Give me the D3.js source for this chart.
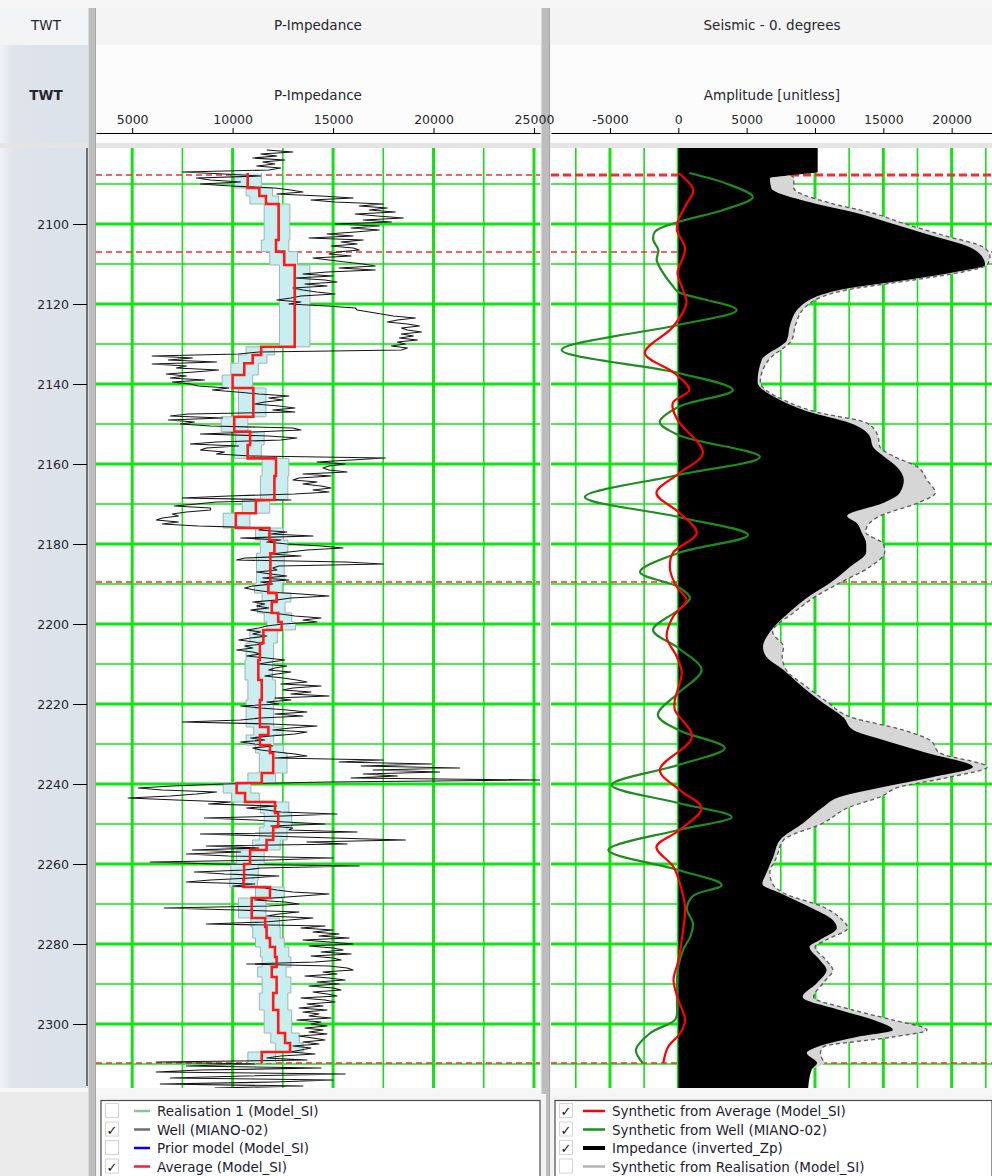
<!DOCTYPE html>
<html>
<head>
<meta charset="utf-8">
<script src="https://cdn.jsdelivr.net/npm/d3@7"></script>
<style>
  body { margin: 0; background: #ffffff; }
  svg { display: block; font-family: "DejaVu Sans", Verdana, sans-serif; }
</style>
</head>
<body>
<svg id="chart" width="992" height="1176"></svg>
<script>
// ---------------- data ----------------
// time axis (TWT, ms)
const twtDomain = [2081, 2316];
const twtTicks = [2100, 2120, 2140, 2160, 2180, 2200, 2220, 2240, 2260, 2280, 2300];
const twtGrid = [2090, 2100, 2110, 2120, 2130, 2140, 2150, 2160, 2170, 2180, 2190, 2200,
  2210, 2220, 2230, 2240, 2250, 2260, 2270, 2280, 2290, 2300, 2310];

// P-Impedance track axis
const zpDomain = [3200, 25300];
const zpTicks = [5000, 10000, 15000, 20000, 25000];
const zpGrid = [5000, 7500, 10000, 12500, 15000, 17500, 20000, 22500, 25000];

// seismic track axis
const ampDomain = [-9314, 22952];
const ampTicks = [-5000, 0, 5000, 10000, 15000, 20000];
const ampGrid = [-7500, -5000, -2500, 0, 2500, 5000, 7500, 10000, 12500, 15000, 17500, 20000, 22500];

// interpreted horizons (TWT)
const horizonTwt = [2087.75, 2107, 2189.5, 2309.75];

// well log MIANO-02, P-impedance sampled every 0.5 ms from 2081.5 ms
const wellStart = 2081.5;
const wellStep = 0.5;
const wellZp = [
  11700, 13000, 11400, 12200, 11000, 12600, 11500, 12100, 11200, 12400,
  11800, 7500, 9600, 11400, 8200, 8900, 10400, 8400, 9900, 12100,
  12900, 13500, 12200, 14400, 16000, 13900, 15100, 17500, 16300, 17700,
  16800, 18100, 16100, 17200, 18500, 16500, 17900, 15100, 17300, 15900,
  17300, 16100, 14700, 16000, 13800, 16500, 15400, 16200, 14900, 16000,
  16300, 15200, 14800, 15900, 14000, 14800, 15600, 16500, 17100, 15300,
  17100, 14700, 13500, 15000, 13100, 14600, 15200, 13600, 14700, 13000,
  13500, 14200, 15100, 13400, 12900, 12200, 13400, 12800, 14700, 16100,
  16200, 16800, 17400, 18000, 19100, 18200, 17700, 18700, 19300, 18400,
  18700, 19400, 18400, 19000, 18300, 19200, 18200, 18600, 17900, 18700,
  18400, 11300, 10300, 6000, 8000, 6800, 9200, 6000, 7700, 7200,
  9300, 8100, 6700, 7700, 6900, 8600, 7000, 7900, 8300, 9800,
  9000, 10200, 11300, 12800, 11800, 12500, 11600, 11100, 12300, 13100,
  12000, 13100, 7800, 6900, 9500, 6800, 8100, 7400, 8900, 13000,
  13400, 11100, 8400, 11800, 13200, 12400, 9200, 7900, 10300, 8700,
  8400, 9600, 9200, 10900, 17600, 15900, 14200, 15600, 14800, 14500,
  14800, 15700, 13500, 14900, 13300, 13000, 14200, 13500, 14400, 14900,
  14000, 14800, 13100, 9800, 7500, 12900, 9200, 8200, 7100, 8900,
  8900, 7700, 7000, 7300, 6500, 6200, 7300, 6500, 8300, 11800,
  11300, 12700, 11900, 14000, 10400, 12400, 11700, 12700, 14400, 15500,
  13700, 12800, 11900, 13400, 10600, 10200, 15600, 17500, 12300, 12000,
  12200, 11200, 11900, 12700, 11500, 12800, 11400, 12000, 11000, 10600,
  11100, 11800, 13400, 14800, 12900, 12200, 11000, 11600, 11200, 11800,
  10900, 11500, 12400, 13100, 14400, 13500, 14200, 12500, 11700, 11300,
  10700, 11400, 11000, 11700, 10900, 10300, 11100, 11500, 10600, 11000,
  10200, 11000, 11400, 10700, 11700, 12600, 11900, 11300, 12700, 12100,
  11800, 12900, 12200, 11600, 12500, 13200, 13700, 12400, 14400, 13000,
  12500, 13900, 12900, 14800, 12100, 12900, 11700, 12300, 10400, 11400,
  12700, 13700, 12100, 13500, 11400, 10400, 7500, 11900, 14200, 12900,
  12000, 13700, 13100, 11900, 10900, 11600, 10400, 11100, 12000, 11000,
  11400, 12200, 13100, 13700, 12100, 17500, 15300, 19900, 16400, 21300,
  17000, 20300, 16500, 18200, 15900, 25300, 14700, 9600, 7000, 5300,
  6500, 9200, 8200, 6900, 4800, 7200, 9900, 8800, 12200, 10700,
  11700, 12400, 15200, 12500, 8600, 11100, 12600, 14600, 11900, 13000,
  12800, 16200, 8400, 11800, 15000, 18600, 13700, 15700, 8700, 11300,
  8000, 10400, 7700, 9800, 15000, 12000, 5900, 9200, 16300, 11400,
  10600, 8100, 9600, 12300, 10900, 8900, 7700, 11100, 10000, 11600,
  12200, 13000, 14800, 13400, 12000, 11100, 12600, 13300, 11800, 6600,
  10200, 13300, 12300, 11700, 14000, 12800, 11600, 8700, 14600, 13400,
  15000, 14000, 15300, 14300, 15800, 13500, 14800, 16000, 13800, 15000,
  15500, 14400, 15900, 13900, 15000, 15400, 14100, 10700, 14800, 15700,
  16000, 14500, 15200, 13600, 14800, 15600, 14200, 15300, 13800, 15000,
  15400, 14000, 14700, 15200, 13400, 14600, 15100, 13700, 14500, 13300,
  14700, 13500, 14300, 13800, 14900, 13200, 14400, 13900, 14700, 13600,
  14500, 13800, 14700, 13300, 14000, 14600, 13500, 14300, 13000, 13900,
  13400, 12900, 14100, 12400, 11700, 13700, 6200, 11100, 7700, 14400,
  8400, 6200, 15600, 10600, 6900, 15000, 12100, 6400, 13500, 9100
];

// Average (Model_SI): blocky layers, each starting at avgTop and holding avgZp
const avgTop = [2087.25, 2091, 2093, 2095, 2104, 2106.9, 2110.25, 2130.7, 2132.75, 2134.8,
  2137.75, 2141, 2148.2, 2151.9, 2155.25, 2158.6, 2163, 2169, 2172.3, 2176,
  2179, 2182.3, 2189.75, 2192.25, 2194.5, 2197.25, 2199.5, 2201.5, 2204.75, 2209,
  2214, 2219, 2225.75, 2227.75, 2230.25, 2232.25, 2237.25, 2239.75, 2242.25, 2244.5,
  2247.25, 2250.75, 2254, 2256.5, 2260, 2264, 2265.75, 2268.5, 2273.5, 2275.75,
  2278.5, 2280.75, 2283.25, 2285.75, 2288.25, 2292.25, 2296.5, 2302.25, 2304.75, 2307];
const avgBase = 2309.75;
const avgZp = [10750, 11330, 11660, 12290, 12160, 12570, 13090, 11420, 11000, 10580,
  10000, 11030, 10080, 10870, 10750, 12160, 12080, 11160, 10160, 11830,
  12080, 11880, 11780, 12190, 11950, 12270, 12440, 11530, 11360, 11280,
  11450, 11360, 11780, 11360, 11860, 12020, 11450, 10200, 10620, 12110,
  12270, 12020, 11690, 10870, 10570, 10540, 11860, 10950, 11620, 11690,
  11860, 12110, 12190, 11950, 12190, 12020, 12270, 12610, 12860, 11450];
// uncertainty band around the average (low / high per layer)
const bandLo = [10100, 10670, 10860, 11570, 11430, 11850, 12330, 10670, 10290, 9910,
  9480, 10290, 9430, 10150, 10100, 11470, 11380, 10480, 9530, 11140,
  11380, 11190, 11090, 11470, 11240, 11570, 11710, 10860, 10670, 10620,
  10760, 10670, 11050, 10670, 11140, 11330, 10760, 9530, 9960, 11380,
  11570, 11330, 11000, 10190, 9910, 9860, 11140, 10290, 10910, 11000,
  11140, 11380, 11470, 11240, 11470, 11330, 11570, 11900, 12140, 10760];
const bandHi = [11430, 11990, 12280, 12850, 12800, 13230, 13850, 12090, 11710, 11280,
  11000, 11660, 10760, 11570, 11430, 12800, 12750, 11850, 10860, 12520,
  12750, 12570, 12470, 12900, 12610, 12940, 13130, 12230, 12040, 11990,
  12140, 12040, 12470, 12040, 12520, 12710, 12140, 10910, 11330, 12800,
  12940, 12710, 12370, 11570, 11280, 11240, 12570, 11660, 12330, 12370,
  12570, 12800, 12900, 12660, 12900, 12750, 12940, 13320, 13510, 12140];

// inverted impedance (black) and its upper envelope (grey, dashed outline)
const zpTwt = [2081, 2087, 2087.8, 2088.5, 2091, 2094.75, 2097.25, 2099.75, 2102.75, 2105.75,
  2108, 2110.25, 2112, 2114, 2116.5, 2120.75, 2125, 2129, 2134, 2139.5,
  2144, 2147, 2149.75, 2153, 2155.75, 2158, 2160.75, 2164, 2167.25, 2169.75,
  2173, 2174.75, 2177, 2180, 2182, 2185.75, 2189.75, 2193, 2197, 2202,
  2205.75, 2208, 2211.5, 2215.75, 2219.75, 2223.25, 2226.5, 2229, 2232.25, 2235.75,
  2238.25, 2240.75, 2243.25, 2245.75, 2249.75, 2254, 2258.25, 2262.25, 2265, 2267.25,
  2270.75, 2274, 2276, 2279, 2280.75, 2284, 2286.5, 2289.75, 2293.25, 2296.5,
  2299, 2301.5, 2303.25, 2305.75, 2307.25, 2309.75, 2311.5, 2316];
const zpInverted = [10200, 10200, 8200, 6700, 6800, 9850, 13050, 15500, 18400, 21300,
  22200, 22450, 20300, 16700, 11800, 8900, 8200, 7950, 6100, 5800,
  7450, 9600, 12550, 14000, 14250, 15000, 16000, 16500, 16200, 15000,
  12350, 13050, 13400, 13750, 13750, 12550, 11100, 9600, 8150, 6700,
  6200, 6400, 7700, 9100, 10600, 12050, 12800, 15000, 18200, 21550,
  18650, 15000, 11800, 10600, 9150, 7450, 6950, 6450, 6150, 7450,
  9600, 11300, 11600, 10350, 9600, 10350, 10850, 10150, 9100, 11800,
  14300, 15700, 13050, 10150, 9400, 10150, 9750, 9500];
const zpUpper = [null, null, 8200, 8450, 8450, 11100, 14200, 16400, 19300, 22300,
  22800, 22600, 20800, 17200, 12300, 9300, 8600, 8300, 6600, 6000,
  7700, 10100, 13800, 14600, 14750, 15700, 17500, 18200, 18800, 17500,
  14750, 14000, 13700, 15000, 15100, 14000, 11800, 10100, 8500, 6900,
  7700, 7600, 7900, 9400, 11000, 12600, 16450, 18400, 19150, 22600,
  19900, 16200, 14750, 12550, 10600, 7700, 7200, 6700, 6900, 7700,
  10600, 12000, 12400, 10800, 10000, 10800, 11300, 10600, 9900, 12750,
  15700, 18200, 15700, 10600, 10400, 10700, 9750, 9500];

// synthetic from well (green)
const synWellTwt = [2087.25, 2090, 2093.25, 2096.5, 2099.5, 2101.9, 2104, 2106.5, 2109, 2112.3,
  2115.7, 2117, 2121.5, 2125.25, 2131.5, 2137.25, 2141.5, 2145.75, 2149.5, 2152.75,
  2158.25, 2162.75, 2168.25, 2173.25, 2177.75, 2182.25, 2187, 2190.75, 2193.5, 2196.5,
  2201.5, 2206, 2211.5, 2217.25, 2222.75, 2226.5, 2231, 2235.25, 2240.25, 2244.75,
  2248.25, 2251.5, 2256.5, 2261.5, 2265.25, 2268, 2271.25, 2274.75, 2278, 2281.25,
  2285.5, 2289.75, 2294.75, 2298.75, 2302.25, 2306.5, 2309.75];
const synWellAmp = [800, 3600, 5450, 3300, 0, -1700, -1830, -1460, -1580, -1100,
  -360, 0, 4270, 0, -8530, 0, 4000, 0, -1350, 0,
  5970, 0, -6830, 0, 5100, 0, -2800, 0, 850, 0,
  -1850, 0, 1700, 0, -1500, 0, 3400, 0, -4880, 0,
  3900, 0, -5120, 0, 3170, 1070, 630, 1070, 900, 380,
  0, -100, -100, -200, -2050, -3100, -2600];

// synthetic from average (red)
const synAvgTwt = [2087.25, 2091.5, 2095, 2099, 2101.5, 2106.25, 2112.25, 2116.5, 2119.75, 2125.75,
  2132.25, 2137.25, 2141.5, 2144.75, 2148.75, 2157.25, 2162.25, 2167.25, 2172.25, 2177.25,
  2182.25, 2186.5, 2190.75, 2194, 2198.25, 2203.25, 2208.25, 2212.25, 2219, 2221.5,
  2228.25, 2236.5, 2241.5, 2246, 2251.5, 2255.75, 2260.75, 2266.5, 2271, 2277.75,
  2284.25, 2289, 2294, 2299, 2302.25, 2305.75, 2309.75];
const synAvgAmp = [0, 1100, 600, 0, -100, 500, -50, 350, 600, -400,
  -2440, -300, 800, -400, -100, 1800, 100, -1600, 100, 1350,
  -400, -600, -100, 600, -400, -850, -100, 250, -250, -250,
  1000, -1350, 100, 1700, 100, -1600, -350, 250, 500, 300,
  0, -350, 0, 500, 150, -750, -1100];

// legend entries
const legendLeft = [
  { label: "Realisation 1 (Model_SI)", color: "#8fbf9f", checked: false, width: 2.5 },
  { label: "Well (MIANO-02)", color: "#6e6e6e", checked: true, width: 2.5 },
  { label: "Prior model (Model_SI)", color: "#0000ff", checked: false, width: 2.5 },
  { label: "Average (Model_SI)", color: "#ff1744", checked: true, width: 2.5 }
];
const legendRight = [
  { label: "Synthetic from Average (Model_SI)", color: "#ff0000", checked: true, width: 2.5 },
  { label: "Synthetic from Well (MIANO-02)", color: "#1e8c1e", checked: true, width: 2.5 },
  { label: "Impedance (inverted_Zp)", color: "#000000", checked: true, width: 4 },
  { label: "Synthetic from Realisation (Model_SI)", color: "#b4b4b4", checked: false, width: 2.5 }
];

// ---------------- layout ----------------
const svg = d3.select("#chart");
const plotTop = 148, plotBottom = 1088;
const left = { x0: 96, x1: 540 };
const right = { x0: 551, x1: 992 };

const y = d3.scaleLinear().domain(twtDomain).range([plotTop, plotBottom]);
const xL = d3.scaleLinear().domain(zpDomain).range([left.x0, left.x1]);
const xR = d3.scaleLinear().domain(ampDomain).range([right.x0, right.x1]);

const GRID = "#16e016";
const TXT = "#26262e";
const plainNumber = d => String(d);

// ---------------- frame / backgrounds ----------------
svg.append("rect").attr("x", 0).attr("y", 0).attr("width", 992).attr("height", 1176).attr("fill", "#f6f6f6");

const defs = svg.append("defs");
const colGrad = defs.append("linearGradient").attr("id", "colGrad").attr("x1", 0).attr("x2", 1).attr("y1", 0).attr("y2", 0);
colGrad.append("stop").attr("offset", "0%").attr("stop-color", "#eef1f5");
colGrad.append("stop").attr("offset", "15%").attr("stop-color", "#dfe4eb");
colGrad.append("stop").attr("offset", "100%").attr("stop-color", "#dce2ea");

// TWT column
svg.append("rect").attr("x", 0).attr("y", 8).attr("width", 88).attr("height", 37).attr("fill", "#f3f4f6");
svg.append("rect").attr("x", 0).attr("y", 45).attr("width", 88).attr("height", 98).attr("fill", "url(#colGrad)");
svg.append("rect").attr("x", 0).attr("y", plotTop).attr("width", 88).attr("height", plotBottom - plotTop).attr("fill", "url(#colGrad)");
svg.append("rect").attr("x", 0).attr("y", 1092).attr("width", 96).attr("height", 84).attr("fill", "#ebebeb");

// track headers
[left, right].forEach(tr => {
  svg.append("rect").attr("x", tr.x0).attr("y", 8).attr("width", tr.x1 - tr.x0).attr("height", 37).attr("fill", "#f4f4f4");
  svg.append("rect").attr("x", tr.x0).attr("y", 45).attr("width", tr.x1 - tr.x0).attr("height", 98).attr("fill", "#fcfcfc");
});

// band between header and plots
svg.append("rect").attr("x", 0).attr("y", 143).attr("width", 992).attr("height", 5).attr("fill", "#e4e4e4");

// clip paths
defs.append("clipPath").attr("id", "clipL").append("rect")
  .attr("x", left.x0).attr("y", plotTop).attr("width", left.x1 - left.x0).attr("height", plotBottom - plotTop);
defs.append("clipPath").attr("id", "clipR").append("rect")
  .attr("x", right.x0).attr("y", plotTop).attr("width", right.x1 - right.x0).attr("height", plotBottom - plotTop);

// ---------------- grids ----------------
function drawGrid(g, tr, xs, vGrid) {
  g.append("rect").attr("x", tr.x0).attr("y", plotTop).attr("width", tr.x1 - tr.x0)
    .attr("height", plotBottom - plotTop).attr("fill", "#ffffff");
  g.selectAll("line.h").data(twtGrid).enter().append("line")
    .attr("x1", tr.x0).attr("x2", tr.x1)
    .attr("y1", d => y(d)).attr("y2", d => y(d))
    .attr("stroke", GRID).attr("stroke-width", d => d % 20 === 0 ? 3 : 1.6);
  g.selectAll("line.v").data(vGrid).enter().append("line")
    .attr("x1", d => xs(d)).attr("x2", d => xs(d))
    .attr("y1", plotTop).attr("y2", plotBottom)
    .attr("stroke", GRID).attr("stroke-width", d => d % 5000 === 0 ? 3 : 1.6);
}

function drawHorizons(g, tr, firstWidth) {
  g.selectAll("line.hz").data(horizonTwt).enter().append("line")
    .attr("x1", tr.x0).attr("x2", tr.x1)
    .attr("y1", d => y(d)).attr("y2", d => y(d))
    .attr("stroke", "#ff2a2a")
    .attr("stroke-width", (d, i) => i === 0 ? firstWidth : 1.4)
    .attr("stroke-dasharray", (d, i) => i === 0 && firstWidth > 2 ? "8,4" : "6,4");
}

// ---------------- P-Impedance track ----------------
const gL = svg.append("g").attr("clip-path", "url(#clipL)");
drawGrid(gL, left, xL, zpGrid);
drawHorizons(gL, left, 1.4);

// step vertices for the layered average and its band
const avgSteps = [];
avgTop.forEach((t0, i) => {
  const t1 = i < avgTop.length - 1 ? avgTop[i + 1] : avgBase;
  avgSteps.push({ t: t0, v: avgZp[i], lo: bandLo[i], hi: bandHi[i] });
  avgSteps.push({ t: t1, v: avgZp[i], lo: bandLo[i], hi: bandHi[i] });
});

gL.append("path").datum(avgSteps)
  .attr("d", d3.area().y(d => y(d.t)).x0(d => xL(d.lo)).x1(d => xL(d.hi)))
  .attr("fill", "#c9eef0");
gL.append("path").datum(avgSteps)
  .attr("d", d3.line().y(d => y(d.t)).x(d => xL(d.lo)))
  .attr("fill", "none").attr("stroke", "#9fb3b5").attr("stroke-width", 1);
gL.append("path").datum(avgSteps)
  .attr("d", d3.line().y(d => y(d.t)).x(d => xL(d.hi)))
  .attr("fill", "none").attr("stroke", "#9fb3b5").attr("stroke-width", 1);

// well log
const wellPts = wellZp.map((v, i) => ({ t: wellStart + i * wellStep, v }));
gL.append("path").datum(wellPts)
  .attr("d", d3.line().y(d => y(d.t)).x(d => xL(d.v)))
  .attr("fill", "none").attr("stroke", "#141414").attr("stroke-width", 1.1)
  .attr("stroke-linejoin", "round");

// average
gL.append("path").datum(avgSteps)
  .attr("d", d3.line().y(d => y(d.t)).x(d => xL(d.v)))
  .attr("fill", "none").attr("stroke", "#ff1a1a").attr("stroke-width", 2.6);

// ---------------- Seismic track ----------------
const gR = svg.append("g").attr("clip-path", "url(#clipR)");
drawGrid(gR, right, xR, ampGrid);
drawHorizons(gR, right, 3);

const zpPts = zpTwt.map((t, i) => ({ t, v: zpInverted[i], u: zpUpper[i] }));

gR.append("path").datum(zpPts)
  .attr("d", d3.area().defined(d => d.u !== null).curve(d3.curveMonotoneY)
    .y(d => y(d.t)).x0(xR(0)).x1(d => xR(d.u)))
  .attr("fill", "#d6d6d6");
gR.append("path").datum(zpPts)
  .attr("d", d3.area().curve(d3.curveMonotoneY)
    .y(d => y(d.t)).x0(xR(0)).x1(d => xR(d.v)))
  .attr("fill", "#000000");
gR.append("path").datum(zpPts.filter(d => d.u !== null && d.t < 2311))
  .attr("d", d3.line().curve(d3.curveMonotoneY).y(d => y(d.t)).x(d => xR(d.u)))
  .attr("fill", "none").attr("stroke", "#5a5a5a").attr("stroke-width", 1.3)
  .attr("stroke-dasharray", "4,3");

const synWell = synWellTwt.map((t, i) => ({ t, v: synWellAmp[i] }));
const synAvg = synAvgTwt.map((t, i) => ({ t, v: synAvgAmp[i] }));
gR.append("path").datum(synWell)
  .attr("d", d3.line().curve(d3.curveCatmullRom.alpha(0.5)).y(d => y(d.t)).x(d => xR(d.v)))
  .attr("fill", "none").attr("stroke", "#1e8c1e").attr("stroke-width", 2.2);
gR.append("path").datum(synAvg)
  .attr("d", d3.line().curve(d3.curveCatmullRom.alpha(0.5)).y(d => y(d.t)).x(d => xR(d.v)))
  .attr("fill", "none").attr("stroke", "#ff0000").attr("stroke-width", 2.2);

// ---------------- separators ----------------
[[88, 96], [541, 550]].forEach(([a, b]) => {
  svg.append("rect").attr("x", a).attr("y", 8).attr("width", b - a).attr("height", 1168).attr("fill", "#bdbdbd");
  svg.append("rect").attr("x", a).attr("y", 8).attr("width", 1).attr("height", 1168).attr("fill", "#d8d8d8");
  svg.append("rect").attr("x", b - 1).attr("y", 8).attr("width", 1).attr("height", 1168).attr("fill", "#a5a5a5");
});

// ---------------- axes ----------------
function styleAxis(g, size) {
  g.selectAll("text").attr("font-family", "DejaVu Sans, Verdana, sans-serif")
    .attr("font-size", size).attr("font-weight", "normal").attr("fill", TXT);
  g.selectAll("line").attr("stroke", "#000");
  g.select(".domain").attr("stroke", "#000");
}

const axL = svg.append("g").attr("transform", "translate(0,133)")
  .call(d3.axisTop(xL).tickValues(zpTicks).tickSize(5).tickSizeOuter(0).tickPadding(4).tickFormat(plainNumber));
styleAxis(axL, 12.5);
const axR = svg.append("g").attr("transform", "translate(0,133)")
  .call(d3.axisTop(xR).tickValues(ampTicks).tickSize(5).tickSizeOuter(0).tickPadding(4).tickFormat(plainNumber));
styleAxis(axR, 12.5);
const axT = svg.append("g").attr("transform", "translate(87,0)")
  .call(d3.axisLeft(y).tickValues(twtTicks).tickSize(14).tickSizeOuter(0).tickPadding(4).tickFormat(plainNumber));
styleAxis(axT, 12.5);
axT.select(".domain").attr("d", `M0,${plotTop}V${plotBottom - 2}`);

// ---------------- titles ----------------
const titles = [
  { x: 46, y: 30, text: "TWT", weight: "normal" },
  { x: 46, y: 100, text: "TWT", weight: "bold" },
  { x: 318, y: 30, text: "P-Impedance", weight: "normal" },
  { x: 318, y: 100, text: "P-Impedance", weight: "normal" },
  { x: 772, y: 30, text: "Seismic - 0. degrees", weight: "normal" },
  { x: 772, y: 100, text: "Amplitude [unitless]", weight: "normal" }
];
svg.selectAll("text.title").data(titles).enter().append("text")
  .attr("x", d => d.x).attr("y", d => d.y)
  .attr("text-anchor", "middle").attr("font-size", 13.5)
  .attr("font-weight", d => d.weight).attr("fill", TXT)
  .text(d => d.text);

// ---------------- legends ----------------
function drawLegend(x0, x1, items, lineX0, lineX1, textX) {
  const g = svg.append("g");
  g.append("rect").attr("x", x0).attr("y", 1094).attr("width", x1 - x0 + 6).attr("height", 90).attr("fill", "#f4f4f4");
  g.append("rect").attr("x", x0 + 5).attr("y", 1100.5).attr("width", x1 - x0 - 5).attr("height", 90)
    .attr("fill", "#ffffff").attr("stroke", "#4a4a4a").attr("stroke-width", 1.2);
  const rowY = [1111, 1129.5, 1148, 1166.5];
  items.forEach((it, i) => {
    const cy = rowY[i];
    g.append("rect").attr("x", x0 + 9.5).attr("y", cy - 7.5).attr("width", 13).attr("height", 14)
      .attr("fill", "#ffffff").attr("stroke", "#d4d4d4").attr("stroke-width", 1);
    if (it.checked) {
      g.append("text").attr("x", x0 + 16).attr("y", cy + 5).attr("text-anchor", "middle")
        .attr("font-size", 13).attr("font-weight", "bold").attr("fill", "#111").text("\u2713");
    }
    g.append("line").attr("x1", lineX0).attr("x2", lineX1).attr("y1", cy).attr("y2", cy)
      .attr("stroke", it.color).attr("stroke-width", it.width);
    g.append("text").attr("x", textX).attr("y", cy + 5).attr("font-size", 13.5).attr("fill", "#1c1c32")
      .text(it.label);
  });
}
drawLegend(96, 540, legendLeft, 134, 150, 157);
drawLegend(550, 992, legendRight, 583, 605, 612);
</script>
</body>
</html>
